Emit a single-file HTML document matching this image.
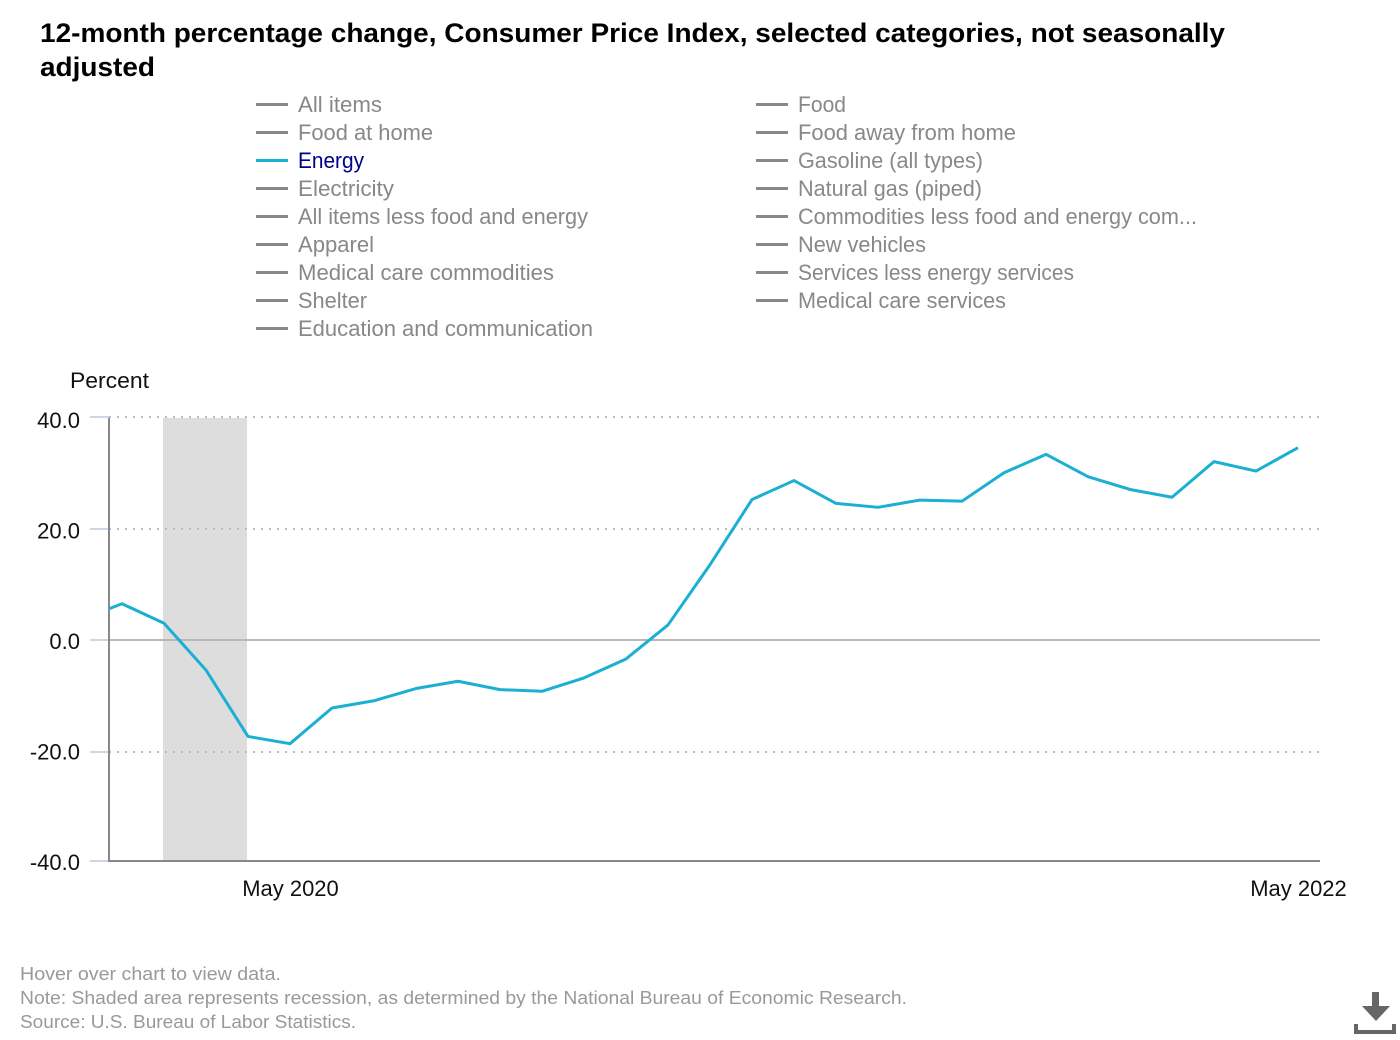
<!DOCTYPE html>
<html lang="en">
<head>
<meta charset="utf-8">
<title>12-month percentage change, Consumer Price Index</title>
<style>
html,body{margin:0;padding:0;background:#fff;width:1400px;height:1040px;overflow:hidden}
svg{display:block}
text{font-family:"Liberation Sans","Noto Sans CJK JP",sans-serif}
.title{font-size:27px;font-weight:bold;fill:#000}
.leg{font-size:22px;fill:#888}
.tick{font-size:22px;fill:#111}
.foot{font-size:18px;fill:#999}
</style>
</head>
<body>
<svg id="chart" xmlns="http://www.w3.org/2000/svg" width="1400" height="1040" viewBox="0 0 1400 1040">
  <defs>
    <clipPath id="plot-clip"><rect x="109" y="410" width="1211" height="460"/></clipPath>
  </defs>
  <text class="title" x="40" y="42" textLength="1185" lengthAdjust="spacingAndGlyphs">12-month percentage change, Consumer Price Index, selected categories, not seasonally</text>
  <text class="title" x="40" y="76" textLength="115" lengthAdjust="spacingAndGlyphs">adjusted</text>

  <g>
    <g><line x1="256" x2="288" y1="104.5" y2="104.5" stroke="#888" stroke-width="3"/><text class="leg" x="298" y="112" textLength="84" lengthAdjust="spacingAndGlyphs">All items</text></g>
    <g><line x1="256" x2="288" y1="132.5" y2="132.5" stroke="#888" stroke-width="3"/><text class="leg" x="298" y="140" textLength="135" lengthAdjust="spacingAndGlyphs">Food at home</text></g>
    <g><line x1="256" x2="288" y1="160.5" y2="160.5" stroke="#1bafd3" stroke-width="3"/><text class="leg" style="fill:#00008b" x="298" y="168" textLength="66" lengthAdjust="spacingAndGlyphs">Energy</text></g>
    <g><line x1="256" x2="288" y1="188.5" y2="188.5" stroke="#888" stroke-width="3"/><text class="leg" x="298" y="196" textLength="96" lengthAdjust="spacingAndGlyphs">Electricity</text></g>
    <g><line x1="256" x2="288" y1="216.5" y2="216.5" stroke="#888" stroke-width="3"/><text class="leg" x="298" y="224" textLength="290" lengthAdjust="spacingAndGlyphs">All items less food and energy</text></g>
    <g><line x1="256" x2="288" y1="244.5" y2="244.5" stroke="#888" stroke-width="3"/><text class="leg" x="298" y="252" textLength="76" lengthAdjust="spacingAndGlyphs">Apparel</text></g>
    <g><line x1="256" x2="288" y1="272.5" y2="272.5" stroke="#888" stroke-width="3"/><text class="leg" x="298" y="280" textLength="256" lengthAdjust="spacingAndGlyphs">Medical care commodities</text></g>
    <g><line x1="256" x2="288" y1="300.5" y2="300.5" stroke="#888" stroke-width="3"/><text class="leg" x="298" y="308" textLength="69" lengthAdjust="spacingAndGlyphs">Shelter</text></g>
    <g><line x1="256" x2="288" y1="328.5" y2="328.5" stroke="#888" stroke-width="3"/><text class="leg" x="298" y="336" textLength="295" lengthAdjust="spacingAndGlyphs">Education and communication</text></g>

    <g><line x1="756" x2="788" y1="104.5" y2="104.5" stroke="#888" stroke-width="3"/><text class="leg" x="798" y="112" textLength="48" lengthAdjust="spacingAndGlyphs">Food</text></g>
    <g><line x1="756" x2="788" y1="132.5" y2="132.5" stroke="#888" stroke-width="3"/><text class="leg" x="798" y="140" textLength="218" lengthAdjust="spacingAndGlyphs">Food away from home</text></g>
    <g><line x1="756" x2="788" y1="160.5" y2="160.5" stroke="#888" stroke-width="3"/><text class="leg" x="798" y="168" textLength="185" lengthAdjust="spacingAndGlyphs">Gasoline (all types)</text></g>
    <g><line x1="756" x2="788" y1="188.5" y2="188.5" stroke="#888" stroke-width="3"/><text class="leg" x="798" y="196" textLength="184" lengthAdjust="spacingAndGlyphs">Natural gas (piped)</text></g>
    <g><line x1="756" x2="788" y1="216.5" y2="216.5" stroke="#888" stroke-width="3"/><text class="leg" x="798" y="224" textLength="399" lengthAdjust="spacingAndGlyphs">Commodities less food and energy com...</text></g>
    <g><line x1="756" x2="788" y1="244.5" y2="244.5" stroke="#888" stroke-width="3"/><text class="leg" x="798" y="252" textLength="128" lengthAdjust="spacingAndGlyphs">New vehicles</text></g>
    <g><line x1="756" x2="788" y1="272.5" y2="272.5" stroke="#888" stroke-width="3"/><text class="leg" x="798" y="280" textLength="276" lengthAdjust="spacingAndGlyphs">Services less energy services</text></g>
    <g><line x1="756" x2="788" y1="300.5" y2="300.5" stroke="#888" stroke-width="3"/><text class="leg" x="798" y="308" textLength="208" lengthAdjust="spacingAndGlyphs">Medical care services</text></g>
  </g>

  <text class="tick" x="70" y="388" textLength="79" lengthAdjust="spacingAndGlyphs">Percent</text>

  <g id="recession-layer"></g>
  <g id="grid-layer"></g>
  <g id="axis-layer"></g>
  <g id="series-layer" clip-path="url(#plot-clip)"></g>
  <g id="label-layer"></g>

  <g>
    <text class="foot" x="20" y="980" textLength="261" lengthAdjust="spacingAndGlyphs">Hover over chart to view data.</text>
    <text class="foot" x="20" y="1004" textLength="887" lengthAdjust="spacingAndGlyphs">Note: Shaded area represents recession, as determined by the National Bureau of Economic Research.</text>
    <text class="foot" x="20" y="1028" textLength="336" lengthAdjust="spacingAndGlyphs">Source: U.S. Bureau of Labor Statistics.</text>
  </g>

  <g fill="#666">
    <path d="M1372 992h7v14h11l-14 15-14-15h10z"/>
    <path d="M1354 1024h4v6h34v-6h4v10h-42z"/>
  </g>
</svg>
<script>
const months = ["Dec 2019","Jan 2020","Feb 2020","Mar 2020","Apr 2020","May 2020","Jun 2020","Jul 2020","Aug 2020","Sep 2020","Oct 2020","Nov 2020","Dec 2020","Jan 2021","Feb 2021","Mar 2021","Apr 2021","May 2021","Jun 2021","Jul 2021","Aug 2021","Sep 2021","Oct 2021","Nov 2021","Dec 2021","Jan 2022","Feb 2022","Mar 2022","Apr 2022","May 2022"];
const energyValues = [3.6,6.5,3.0,-5.4,-17.3,-18.6,-12.2,-10.9,-8.7,-7.4,-8.9,-9.2,-6.8,-3.4,2.7,13.5,25.2,28.6,24.5,23.8,25.1,24.9,30.0,33.3,29.3,27.0,25.6,32.0,30.3,34.5];
const yTickValues = [40,20,0,-20,-40];
const xTickLabels = ["May 2020","May 2022"];
const recessionMonths = ["Feb 2020","Apr 2020"];

const NS = "http://www.w3.org/2000/svg";
const plotLeft = 109, plotRight = 1320, plotTop = 418, plotBottom = 861;
const xScale = i => 80 + 42 * i;
const yMax = yTickValues[0], yMin = yTickValues[yTickValues.length - 1];
const yScale = v => 417 + (yMax - v) / (yMax - yMin) * 446;
const labelY = v => 428 + (yMax - v) / (yMax - yMin) * 442;
const tickY = v => Math.min(Math.round(yScale(v)), plotBottom);
const monthX = m => xScale(months.indexOf(m));

function mk(tag, attrs, parent) {
  const el = document.createElementNS(NS, tag);
  for (const k in attrs) el.setAttribute(k, attrs[k]);
  parent.appendChild(el);
  return el;
}

const recessionLayer = document.getElementById("recession-layer");
const gridLayer = document.getElementById("grid-layer");
const axisLayer = document.getElementById("axis-layer");
const seriesLayer = document.getElementById("series-layer");
const labelLayer = document.getElementById("label-layer");

const band = mk("rect", {x: monthX(recessionMonths[0]) - 1, y: plotTop, width: monthX(recessionMonths[1]) - monthX(recessionMonths[0]), height: plotBottom - plotTop, fill: "#dddddd"}, recessionLayer);



yTickValues.forEach(v => {
  const y = tickY(v);
  if (v !== yMin) {
    const isZero = v === 0;
    const grid = mk("line", {x1: plotLeft, x2: plotRight, y1: y, y2: y, stroke: isZero ? "#b8b8b8" : "#bbbbbb", "stroke-width": 2, "stroke-dasharray": isZero ? "none" : "2 6"}, gridLayer);
    
    
  }
  const tick = mk("line", {x1: 90, x2: plotLeft, y1: y, y2: y, stroke: "#ccd6eb", "stroke-width": 2}, axisLayer);
  
  
  const label = mk("text", {x: 80, y: labelY(v), "text-anchor": "end", class: "tick"}, labelLayer);
  
  
  label.textContent = v.toFixed(1);
});

const yAxis = mk("line", {x1: plotLeft, x2: plotLeft, y1: plotTop, y2: plotBottom + 1, stroke: "#888", "stroke-width": 2}, axisLayer);


const xAxis = mk("line", {x1: plotLeft - 1, x2: plotRight, y1: plotBottom, y2: plotBottom, stroke: "#888", "stroke-width": 2}, axisLayer);



xTickLabels.forEach(m => {
  const label = mk("text", {x: monthX(m) + 0.5, y: 896, "text-anchor": "middle", class: "tick", textLength: 96.5, lengthAdjust: "spacingAndGlyphs"}, labelLayer);
  
  
  label.textContent = m;
});

const linePath = mk("path", {d: energyValues.map((v, i) => (i ? "L" : "M") + xScale(i) + " " + yScale(v)).join(""), fill: "none", stroke: "#1bafd3", "stroke-width": 3, "stroke-linejoin": "round"}, seriesLayer);


</script>
</body>
</html>
